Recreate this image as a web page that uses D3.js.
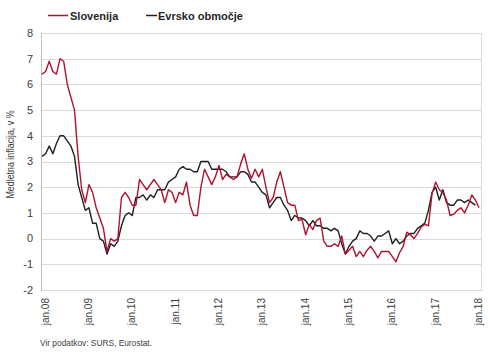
<!DOCTYPE html>
<html>
<head>
<meta charset="utf-8">
<script src="https://cdn.jsdelivr.net/npm/d3@7"></script>
<style>
body { margin: 0; background: #fff; }
text { font-family: "Liberation Sans", Arial, sans-serif; fill: #404040; }
</style>
</head>
<body>
<svg width="490" height="354"></svg>
<script>
// medletna inflacija, mesecne vrednosti jan.08 - feb.18
var slovenija = [
  6.4, 6.5, 6.9, 6.5, 6.4, 7.0, 6.9, 6.0, 5.5, 5.0, 3.2, 1.9,
  1.4, 2.1, 1.8, 1.2, 0.8, 0.4, -0.5, 0.0, -0.1, 0.0, 1.6, 1.8,
  1.6, 1.3, 1.3, 2.3, 2.1, 1.9, 2.1, 2.3, 2.1, 1.9, 1.4, 1.9,
  1.8, 1.4, 1.8, 1.7, 2.2, 1.3, 0.9, 0.9, 2.0, 2.7, 2.4, 2.1,
  2.4, 2.85, 2.3, 2.5, 2.4, 2.3, 2.4, 2.9, 3.3, 2.7, 2.35, 2.7,
  2.4, 2.7, 2.0, 1.4, 1.6, 2.2, 2.6, 2.0, 1.4, 1.3, 1.3, 0.7,
  0.75, 0.15, 0.55, 0.35, 0.7, 0.8, -0.1, -0.3, -0.3, -0.2, -0.3, 0.1,
  -0.6, -0.45, -0.3, -0.7, -0.5, -0.7, -0.45, -0.3, -0.5, -0.75, -0.5, -0.5,
  -0.5, -0.7, -0.9, -0.55, -0.3, 0.25, 0.15, 0.0, 0.2, 0.45, 0.55, 0.5,
  1.75, 2.2, 1.9, 1.8, 1.5, 0.9, 0.95, 1.1, 1.2, 1.0, 1.3, 1.7,
  1.5, 1.2
];
var evrskoObmocje = [
  3.2, 3.3, 3.6, 3.3, 3.7, 4.0, 4.0, 3.8, 3.6, 3.2, 2.1, 1.6,
  1.1, 1.2, 0.6, 0.6, 0.0, -0.1, -0.6, -0.2, -0.3, -0.1, 0.5, 0.9,
  1.0, 0.9, 1.6, 1.6, 1.7, 1.5, 1.7, 1.6, 1.9, 1.9, 1.9, 2.2,
  2.3, 2.4, 2.7, 2.8, 2.7, 2.7, 2.6, 2.6, 3.0, 3.0, 3.0, 2.7,
  2.7, 2.7, 2.7, 2.6, 2.4, 2.4, 2.4, 2.6, 2.6, 2.5, 2.2, 2.2,
  2.0, 1.8, 1.7, 1.2, 1.4, 1.6, 1.6, 1.3, 1.1, 0.7, 0.9, 0.8,
  0.8, 0.7, 0.5, 0.7, 0.5, 0.5, 0.4, 0.4, 0.3, 0.4, 0.3, -0.2,
  -0.6, -0.3, -0.1, 0.0, 0.3, 0.2, 0.2, 0.1, -0.1, 0.1, 0.1, 0.2,
  0.3, -0.2, 0.0, -0.2, -0.1, 0.1, 0.2, 0.2, 0.4, 0.5, 0.6, 1.1,
  1.8, 2.0, 1.5, 1.9, 1.4, 1.3, 1.3, 1.5, 1.5, 1.4, 1.5, 1.4,
  1.3
];
var tickLabels = ["jan.08", "jan.09", "jan.10", "jan.11", "jan.12", "jan.13",
                  "jan.14", "jan.15", "jan.16", "jan.17", "jan.18"];
var yTicks = [-2, -1, 0, 1, 2, 3, 4, 5, 6, 7, 8];

var svg = d3.select("svg");
var plotL = 41, plotR = 481, plotT = 33, plotB = 290;

var x = d3.scaleLinear().domain([0, 121]).range([42, 479]);
var y = d3.scaleLinear().domain([-2, 8]).range([plotB, plotT]);

// mreza
svg.append("g")
  .selectAll("line")
  .data(yTicks)
  .enter()
  .append("line")
  .attr("x1", plotL).attr("x2", plotR)
  .attr("y1", d => Math.round(y(d)) + 0.5).attr("y2", d => Math.round(y(d)) + 0.5)
  .attr("stroke", "#d9d9d9")
  .attr("stroke-width", 1);

svg.append("line")
  .attr("x1", plotR + 0.5).attr("x2", plotR + 0.5)
  .attr("y1", plotT).attr("y2", plotB + 1)
  .attr("stroke", "#d9d9d9");

svg.append("line")
  .attr("x1", plotL + 0.5).attr("x2", plotL + 0.5)
  .attr("y1", plotT).attr("y2", plotB + 1)
  .attr("stroke", "#bfbfbf");

// os y
svg.append("g")
  .selectAll("text")
  .data(yTicks)
  .enter()
  .append("text")
  .attr("x", 33)
  .attr("y", d => y(d))
  .attr("dy", "0.35em")
  .attr("text-anchor", "end")
  .style("font-size", "11px")
  .text(d => d);

svg.append("text")
  .attr("transform", "translate(14," + ((plotT + plotB) / 2 - 7) + ") rotate(-90)")
  .attr("text-anchor", "middle")
  .attr("textLength", 88)
  .attr("lengthAdjust", "spacingAndGlyphs")
  .style("font-size", "11.5px")
  .text("Medletna inflacija, v %");

// os x
svg.append("g")
  .selectAll("text")
  .data(tickLabels)
  .enter()
  .append("text")
  .attr("transform", (d, i) => "translate(" + (x(i * 12) + 3) + ",298) rotate(-90)")
  .attr("dy", "0.35em")
  .attr("text-anchor", "end")
  .style("font-size", "10px")
  .text(d => d);

// crte
var line = d3.line()
  .x((d, i) => x(i))
  .y(d => y(d));

svg.append("path")
  .datum(evrskoObmocje)
  .attr("d", line)
  .attr("fill", "none")
  .attr("stroke", "#1f1f1f")
  .attr("stroke-width", 1.4)
  .attr("stroke-linejoin", "round");

svg.append("path")
  .datum(slovenija)
  .attr("d", line)
  .attr("fill", "none")
  .attr("stroke", "#b0122f")
  .attr("stroke-width", 1.4)
  .attr("stroke-linejoin", "round");

// legenda
var legend = [
  {name: "Slovenija", color: "#b0122f", x1: 48, x2: 68, tx: 70},
  {name: "Evrsko območje", color: "#1f1f1f", x1: 146, x2: 157, tx: 158}
];
var lg = svg.append("g");
lg.selectAll("line")
  .data(legend)
  .enter()
  .append("line")
  .attr("x1", d => d.x1).attr("x2", d => d.x2)
  .attr("y1", 15.5).attr("y2", 15.5)
  .attr("stroke", d => d.color)
  .attr("stroke-width", 1.5);
lg.selectAll("text")
  .data(legend)
  .enter()
  .append("text")
  .attr("x", d => d.tx)
  .attr("y", 19.5)
  .style("font-size", "11px")
  .style("font-weight", "bold")
  .style("fill", "#262626")
  .text(d => d.name);

svg.append("text")
  .attr("x", 40)
  .attr("y", 346)
  .attr("textLength", 112)
  .attr("lengthAdjust", "spacingAndGlyphs")
  .style("font-size", "9.5px")
  .text("Vir podatkov:  SURS, Eurostat.");
</script>
</body>
</html>
